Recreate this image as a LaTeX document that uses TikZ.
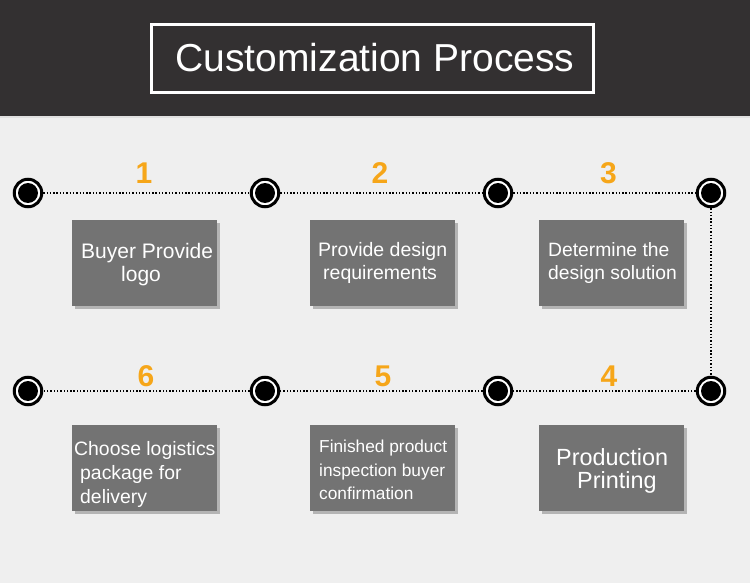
\documentclass[tikz,border=0pt]{standalone}
\usepackage{fontspec}
\setmainfont{Liberation Sans}
\definecolor{hdr}{HTML}{333031}
\definecolor{bg}{HTML}{EFEFEF}
\definecolor{boxc}{HTML}{737373}
\definecolor{shadc}{HTML}{B4B4B4}
\definecolor{numc}{HTML}{F6A619}
\begin{document}
\begin{tikzpicture}[x=1pt,y=-1pt,
  dot/.style={circle,draw=black,line width=3pt,fill=white,minimum size=27.5pt,inner sep=0pt,
    path picture={\fill[black] (path picture bounding box.center) circle (10pt);}},
  link/.style={line width=1.8pt,dash pattern=on 1.4pt off 1.9pt,black},
  stepbox/.style={rectangle,fill=boxc,minimum width=145pt,minimum height=85pt,inner sep=0pt},
  num/.style={text=numc,font=\bfseries\fontsize{30}{30}\selectfont,anchor=base,inner sep=0pt},
  txt/.style={text=white,anchor=base west,inner sep=0pt}]
\useasboundingbox (0,0) rectangle (750,583);
\fill[bg] (0,0) rectangle (750,583);
\fill[hdr] (0,0) rectangle (750,116);
\fill[black!12] (0,116) rectangle (750,118);
\node[draw=white,line width=3pt,minimum width=442pt,minimum height=68pt,inner sep=0pt] (tbox) at (372.5,58.5) {};
\node[text=white,anchor=base,inner sep=0pt,font=\fontsize{39}{39}\selectfont] (title) at (375,72) {Customization Process};
% boxes
\node[stepbox] (b1) at (144.5,263) {};
\node[stepbox] (b2) at (382.5,263) {};
\node[stepbox] (b3) at (611.5,263) {};
\node[stepbox] (b6) at (144.5,468) {};
\node[stepbox] (b5) at (382.5,468) {};
\node[stepbox] (b4) at (611.5,468) {};
\foreach \b in {b1,b2,b3,b4,b5,b6}{
  \fill[shadc] ([shift={(3,3)}]\b.north east) rectangle ([shift={(3,3)}]\b.south west);
}
\foreach \b in {b1,b2,b3,b4,b5,b6}{
  \fill[boxc] (\b.north west) rectangle (\b.south east);
}
% texts
\node[txt,font=\fontsize{21}{21}\selectfont] (t1a) at (81,258) {Buyer Provide};
\node[txt,font=\fontsize{21}{21}\selectfont] (t1b) at (121,281) {logo};
\node[txt,font=\fontsize{19.5}{19.5}\selectfont] (t2a) at (318,256) {Provide design};
\node[txt,font=\fontsize{19.5}{19.5}\selectfont] (t2b) at (323,279) {requirements};
\node[txt,font=\fontsize{19.3}{19.3}\selectfont] (t3a) at (548,256) {Determine the};
\node[txt,font=\fontsize{19.3}{19.3}\selectfont] (t3b) at (548,279) {design solution};
\node[txt,font=\fontsize{19.4}{19.4}\selectfont] (t6a) at (74,455) {Choose logistics};
\node[txt,font=\fontsize{19.4}{19.4}\selectfont] (t6b) at (80,479) {package for};
\node[txt,font=\fontsize{19.4}{19.4}\selectfont] (t6c) at (80,503) {delivery};
\node[txt,font=\fontsize{17.3}{17.3}\selectfont] (t5a) at (319,452) {Finished product};
\node[txt,font=\fontsize{17.3}{17.3}\selectfont] (t5b) at (319,476) {inspection buyer};
\node[txt,font=\fontsize{17.3}{17.3}\selectfont] (t5c) at (319,499) {confirmation};
\node[txt,font=\fontsize{23.4}{23.4}\selectfont] (t4a) at (556,465) {Production};
\node[txt,font=\fontsize{23.4}{23.4}\selectfont] (t4b) at (577,488) {Printing};
% numbers
\node[num] (n1) at (144,184) {1};
\node[num] (n2) at (380,184) {2};
\node[num] (n3) at (608.5,184) {3};
\node[num] (n6) at (146,386) {6};
\node[num] (n5) at (383,386) {5};
\node[num] (n4) at (609,386) {4};
% dots
\node[dot] (c1) at (28,193) {};
\node[dot] (c2) at (265,193) {};
\node[dot] (c3) at (498,193) {};
\node[dot] (c4) at (711,193) {};
\node[dot] (c5) at (711,391) {};
\node[dot] (c6) at (498,391) {};
\node[dot] (c7) at (265,391) {};
\node[dot] (c8) at (28,391) {};
\draw[link] (c1) -- (c2);
\draw[link] (c2) -- (c3);
\draw[link] (c3) -- (c4);
\draw[link] (c4) -- (c5);
\draw[link] (c5) -- (c6);
\draw[link] (c6) -- (c7);
\draw[link] (c7) -- (c8);
\end{tikzpicture}
\end{document}
